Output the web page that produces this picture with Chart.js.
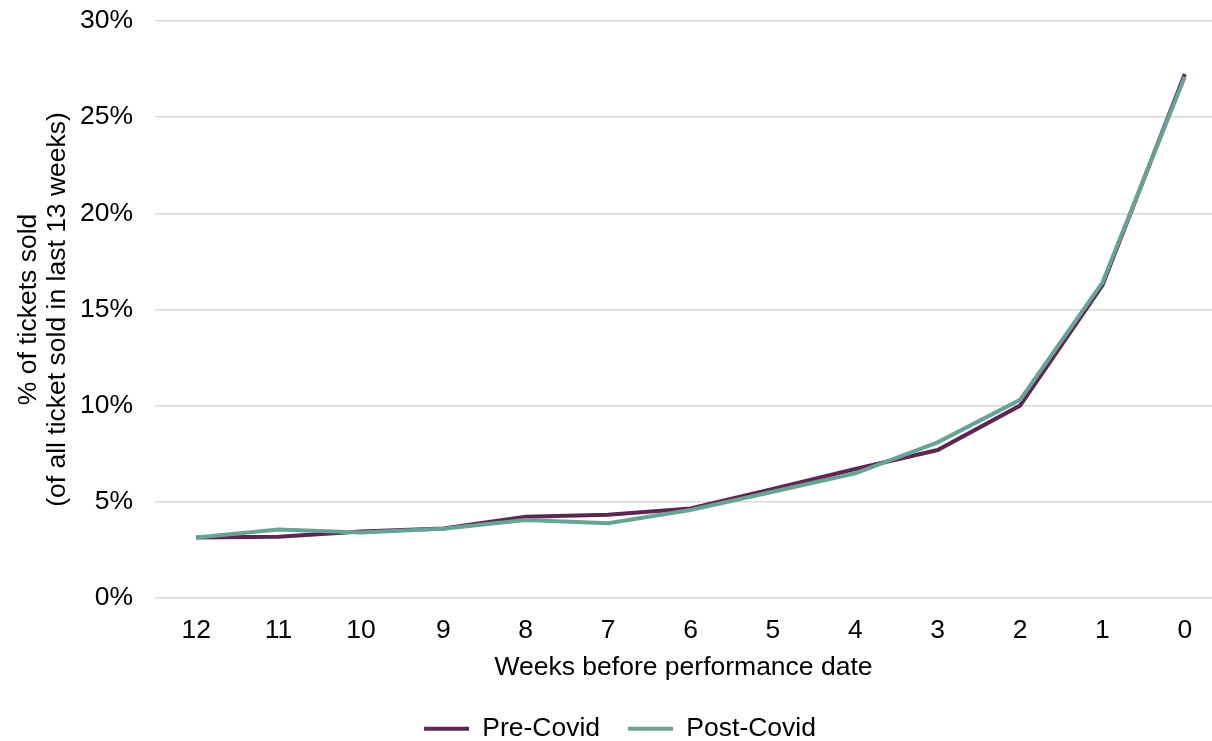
<!DOCTYPE html>
<html lang="en">
<head>
    <meta charset="UTF-8">
    <title>Ticket sales by week</title>
    <style>
        body {
            margin: 0;
            padding: 0;
            background-color: #fff;
        }

        .chart-box {
            width: 1212px;
            height: 741px;
        }
    </style>
</head>
<body>
    <div class="chart-box">
        <canvas id="lineChart" width="1212" height="741"></canvas>
    </div>

    <script src="https://cdn.jsdelivr.net/npm/chart.js"></script>
    <script>
        // Values (% of tickets sold)
        const weeks = [12, 11, 10, 9, 8, 7, 6, 5, 4, 3, 2, 1, 0];
        const preCovid = [3.14, 3.18, 3.45, 3.61, 4.22, 4.33, 4.65, 5.66, 6.7, 7.69, 10.0, 16.25, 27.24];
        const postCovid = [3.14, 3.56, 3.4, 3.6, 4.05, 3.88, 4.57, 5.52, 6.48, 8.09, 10.3, 16.4, 27.1];
        const yTicks = [0, 5, 10, 15, 20, 25, 30];

        const font = "'Liberation Sans', Arial, sans-serif";
        const fontSize = 26.5;

        function points(values) {
            return weeks.map((w, i) => ({ x: w, y: values[i] }));
        }

        const ctx = document.getElementById('lineChart').getContext('2d');
        const lineChart = new Chart(ctx, {
            type: 'line',
            data: {
                datasets: [{
                    label: 'Pre-Covid',
                    data: points(preCovid),
                    borderColor: '#5c2852',
                    backgroundColor: '#5c2852',
                    borderWidth: 4,
                    pointRadius: 0,
                    order: 1
                }, {
                    label: 'Post-Covid',
                    data: points(postCovid),
                    borderColor: '#68a396',
                    backgroundColor: '#68a396',
                    borderWidth: 4,
                    pointRadius: 0,
                    order: 0
                }]
            },
            options: {
                responsive: false,
                animation: false,
                layout: {
                    // left padding nudges the legend right, y axis width makes up for it
                    padding: { top: 21, right: 0, left: 28, bottom: -11 }
                },
                plugins: {
                    tooltip: { enabled: false },
                    legend: {
                        position: 'bottom',
                        labels: {
                            usePointStyle: true,
                            pointStyle: 'line',
                            pointStyleWidth: 45,
                            color: '#000',
                            padding: 28,
                            font: { family: font, size: fontSize },
                            sort: (a, b) => a.datasetIndex - b.datasetIndex
                        }
                    }
                },
                scales: {
                    x: {
                        type: 'linear',
                        reverse: true,
                        min: -0.33,
                        max: 12.5,
                        grid: { display: false },
                        border: { display: false },
                        afterBuildTicks: (scale) => {
                            scale.ticks = weeks.map(v => ({ value: v }));
                        },
                        ticks: {
                            color: '#000',
                            padding: 9,
                            font: { family: font, size: fontSize },
                            callback: (v) => String(v)
                        },
                        title: {
                            display: true,
                            text: 'Weeks before performance date',
                            color: '#000',
                            padding: { top: -4, bottom: 4 },
                            font: { family: font, size: fontSize }
                        }
                    },
                    y: {
                        min: 0,
                        max: 30,
                        afterBuildTicks: (scale) => {
                            scale.ticks = yTicks.map(v => ({ value: v }));
                        },
                        afterFit: (scale) => {
                            scale.width = 127;
                            scale.paddingTop = 0;
                            scale.paddingBottom = 0;
                        },
                        grid: {
                            color: '#d9d9d9',
                            lineWidth: 1.5,
                            drawTicks: false
                        },
                        border: { display: false },
                        ticks: {
                            color: '#000',
                            padding: 22,
                            font: { family: font, size: fontSize },
                            callback: (v) => v + '%'
                        },
                        title: {
                            display: true,
                            text: ['% of tickets sold', '(of all ticket sold in last 13 weeks)'],
                            color: '#000',
                            padding: { top: -14, bottom: 0 },
                            font: { family: font, size: fontSize, lineHeight: 1.1 }
                        }
                    }
                }
            }
        });
    </script>
</body>
</html>
